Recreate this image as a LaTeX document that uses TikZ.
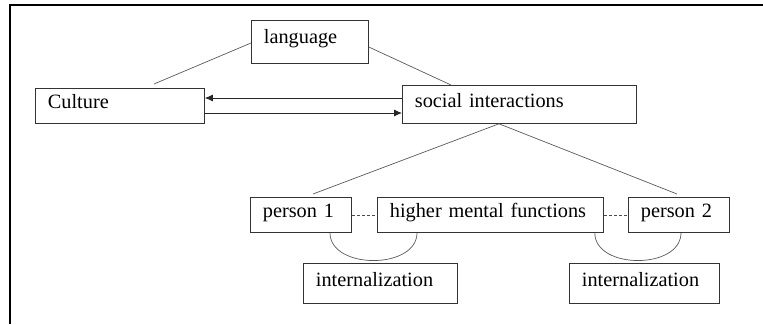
\documentclass[tikz,border=0pt]{standalone}
\usepackage{fontspec}
\setmainfont{Liberation Serif}
\usetikzlibrary{arrows.meta}
\begin{document}
\begin{tikzpicture}[x=1pt,y=-1pt,
  box/.style={draw=black!80, line width=0.8pt, anchor=north west, inner xsep=12.5pt, inner ysep=0pt,
    text height=0.7em, text depth=0.1em, align=left, font=\fontsize{20.3}{24}\selectfont},
  link/.style={draw=black!65, line width=0.7pt},
  dashlink/.style={draw=black!70, line width=0.7pt, dash pattern=on 3pt off 2pt},
  arr/.style={draw=black!85, line width=0.8pt, -{Latex[length=8pt,width=7pt]}},
  frame/.style={draw=black, line width=1.6pt}]
\useasboundingbox (0,0) rectangle (763,324);
\draw[frame] (763,5) -- (10,5) -- (10,324);
\node[box, text width=92pt, minimum height=43pt, text depth=0.35em] (lang) at (251,20) {language};
\node[box, text width=144pt, minimum height=35pt] (cult) at (35,88) {Culture};
\node[box, text width=209pt, minimum height=38pt] (soc) at (402,85) {social interactions};
\node[box, text width=76pt, minimum height=35pt] (p1) at (250,197) {person 1};
\node[box, text width=201pt, minimum height=35pt] (hmf) at (377,197) {higher mental functions};
\node[box, text width=76pt, minimum height=35pt] (p2) at (628,197) {person 2};
\node[box, text width=129pt, minimum height=40pt] (in1) at (303,263) {internalization};
\node[box, text width=125pt, minimum height=40pt] (in2) at (569,263) {internalization};
% free ends
\coordinate (langend) at ([xshift=119pt,yshift=4pt]cult.north west);
\coordinate (p1end) at ([xshift=63pt,yshift=3pt]p1.north west);
\coordinate (p2end) at ([xshift=49pt,yshift=3pt]p2.north west);
% lines
\draw[link] ([yshift=-23pt]lang.north west) -- (langend);
\draw[link] ([yshift=-27pt]lang.north east) -- ([xshift=49pt]soc.north west);
\draw[link] ([xshift=97pt]soc.south west) -- (p1end);
\draw[link] ([xshift=97pt]soc.south west) -- (p2end);
% arrows
\draw[arr] ([yshift=-13pt]soc.north west) -- ([yshift=-10pt]cult.north east);
\draw[arr] ([yshift=-25pt]cult.north east) -- ([yshift=-28pt]soc.north west);
% dashed
\draw[dashlink] (p1.east) -- (hmf.west);
\draw[dashlink] (hmf.east) -- (p2.west);
% arcs
\draw[link] ([xshift=80pt]p1.south west) .. controls +(0,37) and +(0,37) .. ([xshift=40pt]hmf.south west);
\draw[link] ([xshift=-9pt]hmf.south east) .. controls +(0,37) and +(0,37) .. ([xshift=53pt]p2.south west);
\end{tikzpicture}
\end{document}
